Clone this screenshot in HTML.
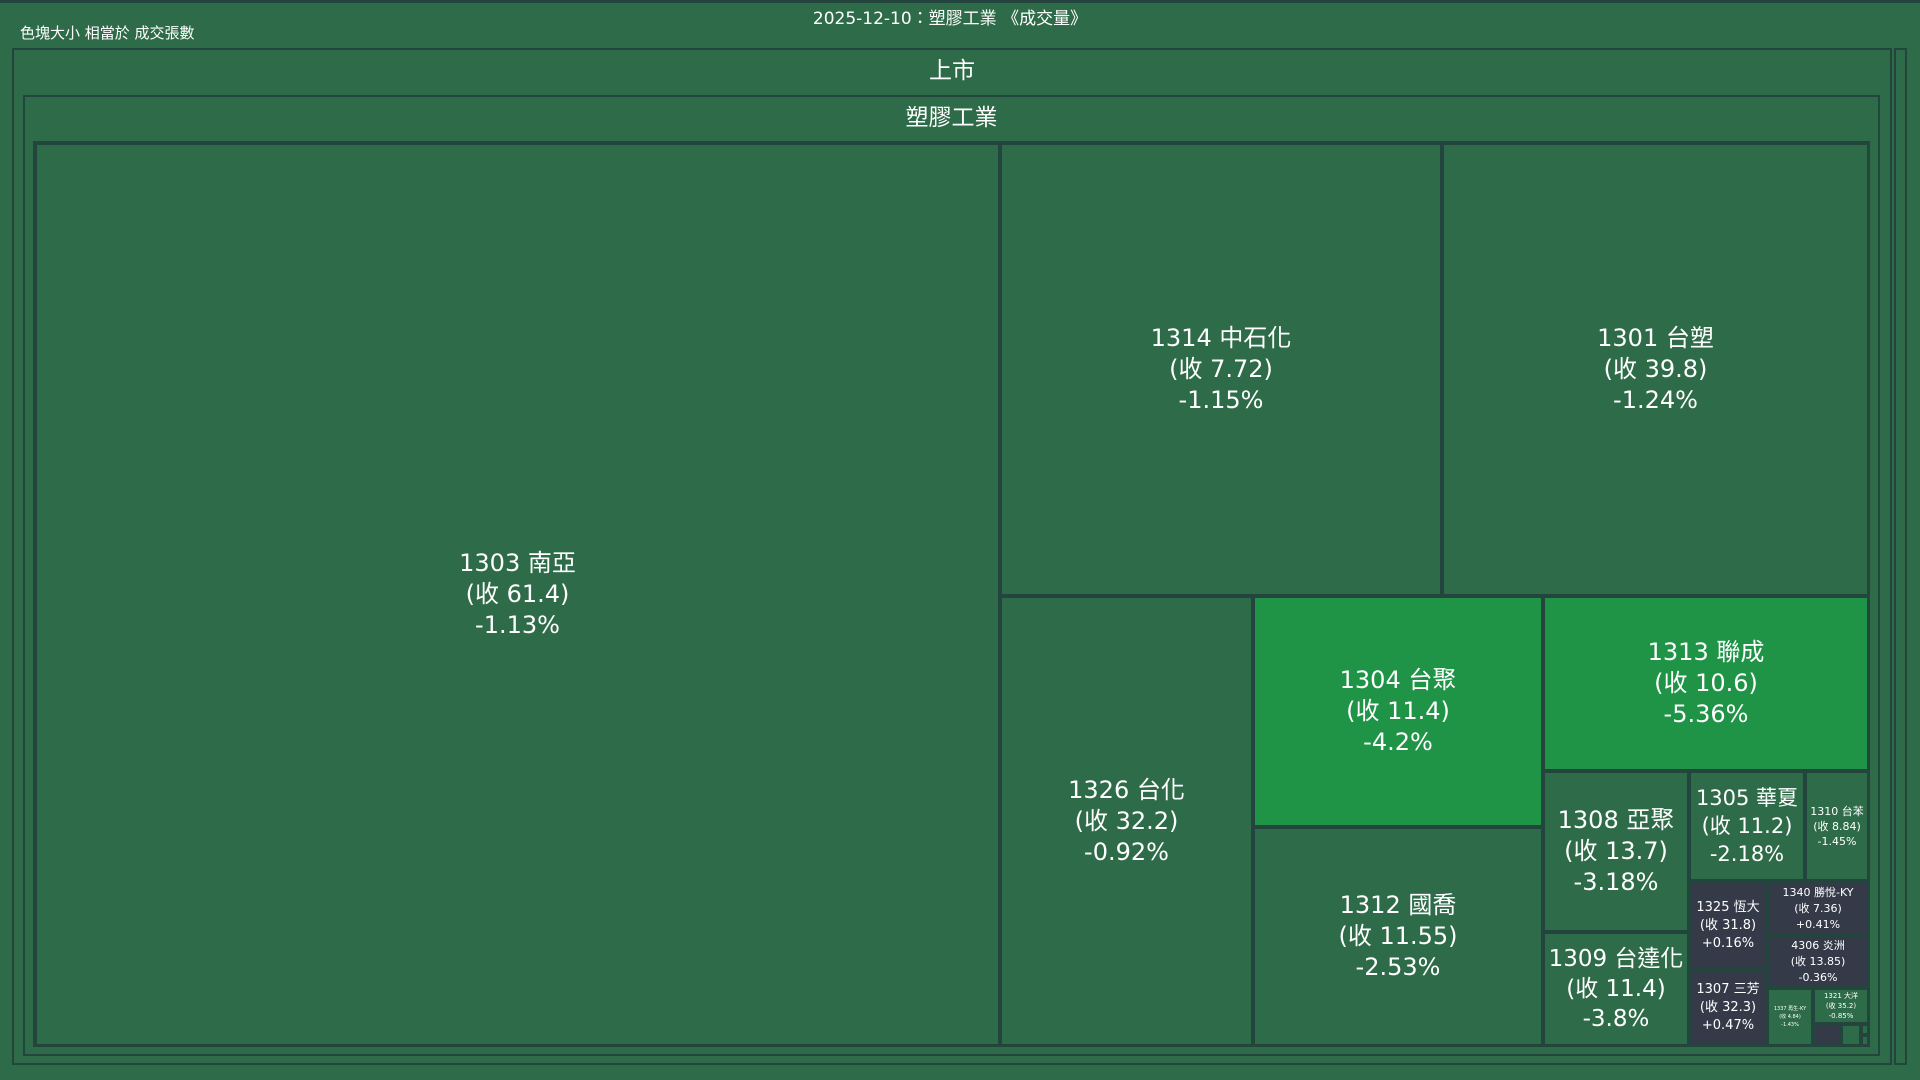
<!DOCTYPE html>
<html><head><meta charset="utf-8"><style>
body{margin:0;width:1920px;height:1080px;background:#2e6b48;overflow:hidden;position:relative;font-family:"DejaVu Sans","Noto Sans CJK TC",sans-serif;color:#fff}
.b{position:absolute;box-sizing:border-box;border:2px solid #24443e;background:#2e6b48}
.l{position:absolute;box-sizing:border-box;border:2px solid #24443e;background:#2e6b48;display:flex;align-items:center;justify-content:center;text-align:center;white-space:nowrap}
.g{background:#1f9447}.d{background:#343a48}
.t{position:absolute;font-size:15px}
</style></head><body>
<div class="b" style="left:0;top:0;width:1920px;height:1080px;border-width:3px 0 0 0"></div>
<div class="t" style="left:0;width:1900px;top:4px;text-align:center;font-size:17px">2025-12-10：塑膠工業 《成交量》</div>
<div class="t" style="left:20px;top:22px">色塊大小 相當於 成交張數</div>
<div class="b" style="left:12px;top:48px;width:1880px;height:1017px"></div>
<div class="b" style="left:1894px;top:48px;width:13px;height:1017px"></div>
<div class="t" style="left:12px;width:1880px;top:51px;text-align:center;font-size:23px">上市</div>
<div class="b" style="left:23px;top:95px;width:1857px;height:961px"></div>
<div class="t" style="left:23px;width:1857px;top:98px;text-align:center;font-size:23px">塑膠工業</div>
<div class="b" style="left:33px;top:141px;width:1837px;height:906px"></div>
<div class="l" style="left:35px;top:143px;width:965px;height:903px;font-size:24px;line-height:31px">1303 南亞<br>(收 61.4)<br>-1.13%</div>
<div class="l" style="left:1000px;top:143px;width:442px;height:453px;font-size:24px;line-height:31px">1314 中石化<br>(收 7.72)<br>-1.15%</div>
<div class="l" style="left:1442px;top:143px;width:427px;height:453px;font-size:24px;line-height:31px">1301 台塑<br>(收 39.8)<br>-1.24%</div>
<div class="l" style="left:1000px;top:596px;width:253px;height:450px;font-size:24px;line-height:31px">1326 台化<br>(收 32.2)<br>-0.92%</div>
<div class="l g" style="left:1253px;top:596px;width:290px;height:231px;font-size:24px;line-height:31px">1304 台聚<br>(收 11.4)<br>-4.2%</div>
<div class="l" style="left:1253px;top:827px;width:290px;height:219px;font-size:24px;line-height:31px">1312 國喬<br>(收 11.55)<br>-2.53%</div>
<div class="l g" style="left:1543px;top:596px;width:326px;height:175px;font-size:24px;line-height:31px">1313 聯成<br>(收 10.6)<br>-5.36%</div>
<div class="l" style="left:1543px;top:771px;width:146px;height:161px;font-size:24px;line-height:31px">1308 亞聚<br>(收 13.7)<br>-3.18%</div>
<div class="l" style="left:1543px;top:932px;width:146px;height:114px;font-size:23px;line-height:30px">1309 台達化<br>(收 11.4)<br>-3.8%</div>
<div class="l" style="left:1689px;top:771px;width:116px;height:110px;font-size:21px;line-height:28px">1305 華夏<br>(收 11.2)<br>-2.18%</div>
<div class="l" style="left:1805px;top:771px;width:64px;height:110px;font-size:11px;line-height:15px">1310 台苯<br>(收 8.84)<br>-1.45%</div>
<div class="l d" style="left:1689px;top:881px;width:78px;height:89px;font-size:13px;line-height:18px">1325 恆大<br>(收 31.8)<br>+0.16%</div>
<div class="l d" style="left:1689px;top:970px;width:78px;height:76px;font-size:13px;line-height:18px">1307 三芳<br>(收 32.3)<br>+0.47%</div>
<div class="l d" style="left:1767px;top:881px;width:102px;height:55px;font-size:11px;line-height:16px">1340 勝悅-KY<br>(收 7.36)<br>+0.41%</div>
<div class="l d" style="left:1767px;top:936px;width:102px;height:52px;font-size:11px;line-height:16px">4306 炎洲<br>(收 13.85)<br>-0.36%</div>
<div class="l" style="left:1767px;top:988px;width:46px;height:58px;font-size:5px;line-height:8px">1337 再生-KY<br>(收 4.84)<br>-1.43%</div>
<div class="l" style="left:1813px;top:988px;width:56px;height:36px;font-size:7px;line-height:10px">1321 大洋<br>(收 35.2)<br>-0.85%</div>
<div class="l d" style="left:1813px;top:1024px;width:28px;height:22px;font-size:4px"></div>
<div class="l" style="left:1841px;top:1024px;width:20px;height:22px"></div>
<div class="l" style="left:1861px;top:1024px;width:8px;height:11px"></div>
<div class="l" style="left:1861px;top:1035px;width:8px;height:11px"></div>
</body></html>
